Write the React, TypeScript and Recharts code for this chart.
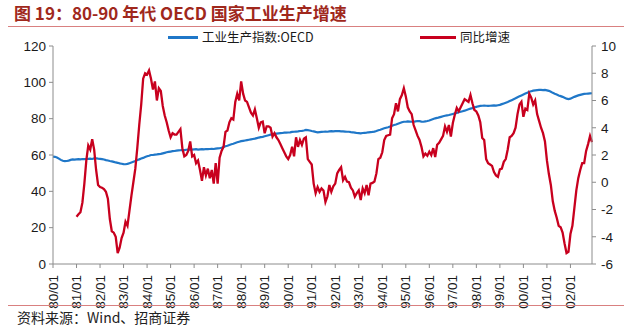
import { Line, LineChart, XAxis, YAxis } from "recharts";

const years = ["80", "81", "82", "83", "84", "85", "86", "87", "88", "89", "90", "91", "92", "93", "94", "95", "96", "97", "98", "99", "00", "01", "02"];
const monthCodes = ["01", "02", "03", "04", "05", "06", "07", "08", "09", "10", "11", "12"];

// 工业生产指数:OECD, monthly 80/01 - 02/12 (left axis)
const indexOecd = [
  59.1, 59.0, 58.6, 58.0, 57.3, 56.8, 56.6, 56.7, 56.9, 57.3, 57.6, 57.5,
  57.6, 57.7, 57.6, 57.8, 57.7, 57.8, 57.9, 58.0, 57.8, 58.1, 58.2, 58.0,
  57.9, 57.7, 57.5, 57.2, 57.0, 56.7, 56.5, 56.2, 55.9, 55.7, 55.4, 55.2,
  55.0, 54.9, 55.1, 55.5, 55.9, 56.3, 56.7, 57.2, 57.6, 58.1, 58.4, 58.9,
  59.3, 59.6, 60.0, 60.0, 60.2, 60.3, 60.5, 60.6, 60.9, 61.2, 61.5, 61.7,
  61.9, 62.1, 62.2, 62.4, 62.5, 62.6, 62.8, 62.7, 62.9, 63.0, 63.1, 63.0,
  63.1, 63.2, 63.0, 63.1, 63.2, 63.1, 63.3, 63.2, 63.3, 63.4, 63.3, 63.5,
  63.6, 63.7, 64.0, 64.4, 64.8, 65.1, 65.5, 65.9, 66.2, 66.6, 67.0, 67.3,
  67.6, 67.8, 68.0, 68.2, 68.4, 68.6, 68.8, 69.0, 69.3, 69.6, 69.8, 70.0,
  70.3, 70.6, 70.9, 71.2, 71.4, 71.6, 71.8, 71.9, 72.0, 72.1, 72.3, 72.3,
  72.4, 72.5, 72.7, 72.8, 72.9, 73.0, 73.2, 73.3, 73.5, 73.8, 73.7, 73.5,
  73.2, 73.0, 72.7, 72.5, 72.6, 72.7, 72.8, 72.9, 72.8, 73.0, 73.1, 73.0,
  73.1, 73.2, 73.1, 73.0, 73.0, 72.9, 72.8, 72.8, 72.6, 72.5, 72.3, 72.1,
  72.0, 71.9, 72.1, 72.2, 72.3, 72.5, 72.6, 72.7, 72.9, 73.2, 73.6, 73.9,
  74.3, 74.7, 75.0, 75.3, 75.7, 76.1, 76.5, 76.8, 77.2, 77.6, 78.0, 78.3,
  78.3, 78.5, 78.4, 78.3, 78.3, 78.5, 78.7, 78.6, 78.4, 78.3, 78.5, 78.7,
  79.0, 79.4, 79.8, 80.2, 80.4, 80.7, 81.0, 81.3, 81.6, 81.8, 82.0, 82.3,
  82.6, 82.9, 83.2, 83.5, 83.8, 84.1, 84.4, 84.8, 85.2, 85.5, 85.8, 86.2,
  86.5, 86.8, 87.0, 87.1, 87.2, 87.1, 87.0, 87.1, 87.2, 87.3, 87.2, 87.4,
  87.6, 88.0, 88.4, 88.8, 89.2, 89.7, 90.2, 90.7, 91.2, 91.8, 92.3, 92.8,
  93.3, 93.8, 94.3, 94.8, 95.1, 95.4, 95.6, 95.7, 95.8, 95.8, 95.7, 95.8,
  95.6, 95.3, 94.8, 94.2, 93.7, 93.3, 92.8, 92.4, 92.0, 91.5, 91.0, 90.8,
  91.0, 91.5, 92.0, 92.4, 92.8, 93.1, 93.4, 93.6, 93.7, 93.8, 93.9, 94.0,
];

// 同比增速 (%), monthly 81/01 - 02/12 (right axis)
const yoyGrowth = [
  -2.53, -2.35, -2.2, -1.5, -0.1, 1.6, 2.7, 2.4, 3.15, 2.4, 0.9, -0.2,
  -0.35, -0.4, -0.5, -0.7, -1.2, -2.7, -3.6, -3.7, -4.0, -5.2, -4.8, -4.1,
  -3.7, -2.9, -3.2, -2.1, -1.0, 0.0, 1.0, 2.5, 4.2, 5.7, 7.6, 8.0,
  7.9, 8.2, 7.6, 6.8, 7.4, 6.0, 6.9, 6.7, 5.6, 4.9, 4.4, 3.8,
  3.3, 3.6, 3.5, 3.5, 3.7, 3.9, 2.5, 1.9, 2.0, 2.3, 3.0, 1.9,
  2.0, 1.4, 1.6, 0.9, 0.1, 1.1, 0.5, 1.0, 0.3, 0.9, -0.1, 1.4,
  -0.1, 1.8, 2.3, 2.6, 3.7, 3.8, 4.4, 4.7, 4.6, 5.9, 6.5, 6.0,
  7.4, 6.5, 6.0, 5.9, 5.5, 5.1, 4.9, 5.35, 4.7, 4.0, 4.4, 4.45,
  3.6, 4.1, 4.1, 4.0, 3.35, 3.6, 3.3, 3.1, 2.8, 2.5, 2.2, 1.9,
  1.7, 2.0, 2.6, 1.9, 3.3, 2.6, 3.1, 2.75, 3.2, 3.3, 1.7, 1.5,
  1.3, -0.1, -0.8, -0.35, -0.7, -0.45, -0.6, -1.45, -1.05, -0.2, -0.7, -0.3,
  -0.1, 0.65, 0.9, 1.1, 0.15, 0.4, 0.05, 0.0, -0.4, -0.6, -1.05, -0.8,
  -0.6, -1.3, -0.45, -0.8, -0.2, -0.95, -0.1, -0.05, 0.05, 0.65, 1.7, 1.8,
  2.2, 3.1, 3.4, 3.45, 3.5, 4.7, 5.0, 5.8, 5.2, 6.1, 6.4, 6.9,
  6.3, 5.5, 5.2, 5.0, 4.2, 3.8, 3.4, 3.1, 2.6, 1.9, 2.1, 1.95,
  2.25, 2.0, 2.5, 1.85, 2.75, 2.9, 3.15, 3.4, 4.1, 3.7, 4.2, 3.35,
  4.35, 4.95, 5.45, 5.2, 5.5, 5.8, 6.1, 6.0, 5.9, 6.4, 5.8, 5.3,
  5.2, 4.9, 4.4, 3.25, 3.1, 1.7, 1.4, 1.3, 1.2, 0.75, 0.5, 0.4,
  0.95, 1.0, 1.5, 1.7, 2.4, 3.3, 3.4, 3.6, 4.0, 5.0, 5.7, 5.9,
  4.8, 5.4, 5.3, 6.5, 6.2, 5.7, 6.0, 5.0, 4.5, 4.0, 3.6, 3.0,
  1.6, 0.6, -0.2, -1.4, -2.1, -2.6, -3.2, -3.3, -3.7, -4.5, -5.2, -5.1,
  -3.8, -3.2, -1.9, -0.6, 0.3, 0.9, 1.4, 1.4, 2.3, 2.8, 3.4, 2.95,
];

const leftTicks = [0, 20, 40, 60, 80, 100, 120];
const rightTicks = [-6, -4, -2, 0, 2, 4, 6, 8, 10];

const months = years.flatMap((y) => monthCodes.map((m) => `${y}/${m}`));
const data = months.map((label, i) => ({
  label,
  index: indexOecd[i],
  yoy: i >= 12 ? yoyGrowth[i - 12] : null,
}));

const BLUE = "#1f77c8";
const RED = "#c8001e";
const AXIS = "#8c8c8c";
const LINE_PINK = "#d98080";
const TICK_FONT = "'Liberation Sans', Arial, sans-serif";
const CJK_FONT = "'Noto Sans CJK SC', 'Noto Sans', sans-serif";

function MonthTick({ x, y, payload }: any) {
  return (
    <text
      transform={`translate(${x},${y}) rotate(-90)`}
      textAnchor="end"
      dominantBaseline="central"
      fontSize={13.5}
      fontFamily={TICK_FONT}
      fill="#1a1a1a"
    >
      {payload.value}
    </text>
  );
}

export default function App() {
  return (
    <div style={{ position: "absolute", left: 0, top: 0, width: 640, height: 330, background: "#fff", overflow: "hidden" }}>
      <div style={{ position: "absolute", left: 0, top: 0 }}>
        <LineChart width={640} height={330} data={data} margin={{ top: 46, right: 0, bottom: 26, left: 0 }}>
          <XAxis
            dataKey="label"
            interval={11}
            tick={<MonthTick />}
            tickSize={4}
            tickMargin={7}
            height={40}
            stroke={AXIS}
            tickLine={{ stroke: AXIS }}
          />
          <YAxis
            yAxisId="left"
            domain={[0, 120]}
            ticks={leftTicks}
            width={53}
            tickSize={4}
            tickMargin={3}
            stroke={AXIS}
            tick={{ fill: "#1a1a1a", fontSize: 13.5, fontFamily: TICK_FONT }}
          />
          <YAxis
            yAxisId="right"
            orientation="right"
            domain={[-6, 10]}
            ticks={rightTicks}
            width={48}
            tickSize={4}
            tickMargin={5}
            stroke={AXIS}
            tick={{ fill: "#1a1a1a", fontSize: 13.5, fontFamily: TICK_FONT }}
          />
          <Line yAxisId="left" dataKey="index" stroke={BLUE} strokeWidth={2.2} dot={false} isAnimationActive={false} />
          <Line yAxisId="right" dataKey="yoy" stroke={RED} strokeWidth={2.3} dot={false} isAnimationActive={false} />
        </LineChart>
      </div>

      <div
        style={{
          position: "absolute", left: 14, top: 3, fontFamily: CJK_FONT, fontWeight: 700,
          fontSize: 17, color: "#a0281c", whiteSpace: "nowrap", lineHeight: "20px",
        }}
      >
        图 19：80-90 年代 OECD 国家工业生产增速
      </div>
      <div style={{ position: "absolute", left: 8, top: 26, width: 616, height: 0, borderTop: `1.5px solid ${LINE_PINK}` }} />

      <div style={{ position: "absolute", left: 168, top: 36, width: 30, height: 3, background: BLUE }} />
      <div style={{ position: "absolute", left: 202, top: 29, fontFamily: CJK_FONT, fontSize: 12.5, color: "#1a1a1a", lineHeight: "16px", whiteSpace: "nowrap" }}>
        工业生产指数:OECD
      </div>
      <div style={{ position: "absolute", left: 420, top: 36, width: 36, height: 3, background: RED }} />
      <div style={{ position: "absolute", left: 460, top: 29, fontFamily: CJK_FONT, fontSize: 12.5, color: "#1a1a1a", lineHeight: "16px", whiteSpace: "nowrap" }}>
        同比增速
      </div>

      <div style={{ position: "absolute", left: 8, top: 305, width: 616, height: 0, borderTop: `1.5px solid ${LINE_PINK}` }} />
      <div style={{ position: "absolute", left: 17, top: 308, fontFamily: CJK_FONT, fontSize: 14, color: "#222", lineHeight: "18px", whiteSpace: "nowrap" }}>
        资料来源：Wind、招商证券
      </div>
    </div>
  );
}
